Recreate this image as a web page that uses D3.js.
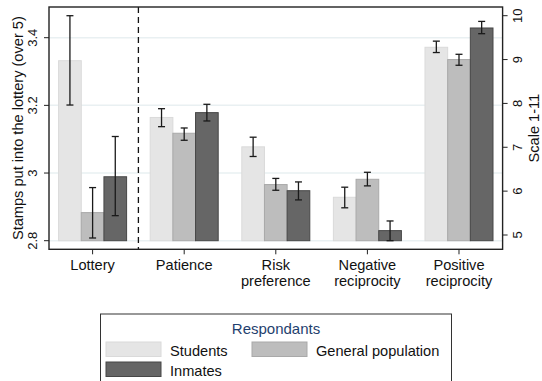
<!DOCTYPE html>
<html>
<head>
<meta charset="utf-8">
<script src="https://cdn.jsdelivr.net/npm/d3@7"></script>
<style>
  body { margin: 0; background: #fff; }
  text { font-family: "Liberation Sans", Arial, sans-serif; fill: #111; }
</style>
</head>
<body>
<svg id="chart" width="542" height="381"></svg>
<script>
// categories and groups
var categories = ["Lottery", "Patience", "Risk preference", "Negative reciprocity", "Positive reciprocity"];
var catLines = [["Lottery"], ["Patience"], ["Risk", "preference"], ["Negative", "reciprocity"], ["Positive", "reciprocity"]];
var groups = ["Students", "General population", "Inmates"];

// means (Lottery on left axis, the rest on the right 1-11 scale)
var students = [3.332, 7.68, 7.01, 5.86, 9.28];
var studentsLo = [3.201, 7.47, 6.79, 5.62, 9.16];
var studentsHi = [3.465, 7.88, 7.23, 6.09, 9.42];

var general = [2.883, 7.32, 6.15, 6.27, 9.00];
var generalLo = [2.808, 7.16, 6.02, 6.12, 8.87];
var generalHi = [2.957, 7.44, 6.29, 6.43, 9.12];

var inmates = [2.989, 7.79, 6.01, 5.10, 9.72];
var inmatesLo = [2.874, 7.60, 5.80, 4.87, 9.59];
var inmatesHi = [3.108, 7.98, 6.21, 5.32, 9.87];

var leftTicks = [2.8, 3.0, 3.2, 3.4];
var leftTickLabels = ["2.8", "3", "3.2", "3.4"];
var rightTicks = [5, 6, 7, 8, 9, 10];

var colors = ["#e5e5e5", "#bdbdbd", "#666666"];
var strokes = ["#dadada", "#a9a9a9", "#474747"];

// plot box
var box = {left: 49, right: 502.6, top: 7, bottom: 249.3};

var svg = d3.select("#chart");

var yL = d3.scaleLinear().domain([2.8, 3.4]).range([240.7, 37.7]);
var yR = d3.scaleLinear().domain([5, 10]).range([235, 15.7]);
var x = d3.scalePoint().domain(categories).range([box.left, box.right]).padding(0.476);
var groupW = 68;
var xg = d3.scaleBand().domain(groups).range([0, groupW]);

// gridlines
svg.selectAll("line.grid").data(leftTicks).enter().append("line")
  .attr("class", "grid")
  .attr("x1", box.left).attr("x2", box.right)
  .attr("y1", d => yL(d)).attr("y2", d => yL(d))
  .attr("stroke", "#e9f0f2").attr("stroke-width", 1.5);

// build rows
var series = [
  {name: groups[0], v: students, lo: studentsLo, hi: studentsHi},
  {name: groups[1], v: general, lo: generalLo, hi: generalHi},
  {name: groups[2], v: inmates, lo: inmatesLo, hi: inmatesHi}
];
var rows = [];
series.forEach(function(s, gi) {
  categories.forEach(function(c, ci) {
    rows.push({cat: c, ci: ci, gi: gi, g: s.name, v: s.v[ci], lo: s.lo[ci], hi: s.hi[ci]});
  });
});
function yy(d, v) { return d.ci === 0 ? yL(v) : yR(v); }
var base = yL(2.8);

svg.selectAll("rect.bar").data(rows).enter().append("rect")
  .attr("class", "bar")
  .attr("x", d => x(d.cat) - groupW / 2 + xg(d.g))
  .attr("width", xg.bandwidth())
  .attr("y", d => yy(d, d.v))
  .attr("height", d => base - yy(d, d.v))
  .attr("fill", d => colors[d.gi])
  .attr("stroke", d => strokes[d.gi])
  .attr("stroke-width", 1);

// error bars
var eb = svg.selectAll("g.err").data(rows).enter().append("g").attr("class", "err")
  .attr("transform", d => "translate(" + (x(d.cat) - groupW / 2 + xg(d.g) + xg.bandwidth() / 2) + ",0)");
eb.append("line").attr("x1", 0).attr("x2", 0)
  .attr("y1", d => Math.min(yy(d, d.lo), base)).attr("y2", d => yy(d, d.hi))
  .attr("stroke", "#1a1a1a").attr("stroke-width", 1.3);
eb.append("line").attr("x1", -3.5).attr("x2", 3.5)
  .attr("y1", d => yy(d, d.hi)).attr("y2", d => yy(d, d.hi))
  .attr("stroke", "#1a1a1a").attr("stroke-width", 1.3);
eb.append("line").attr("x1", -3.5).attr("x2", 3.5)
  .attr("y1", d => Math.min(yy(d, d.lo), base)).attr("y2", d => Math.min(yy(d, d.lo), base))
  .attr("stroke", "#1a1a1a").attr("stroke-width", 1.3);

// dashed separator
var sepX = (x(categories[0]) + x(categories[1])) / 2;
svg.append("line").attr("x1", sepX).attr("x2", sepX)
  .attr("y1", box.top).attr("y2", box.bottom)
  .attr("stroke", "#111").attr("stroke-width", 1.3).attr("stroke-dasharray", "6,4");

// frame
svg.append("rect").attr("x", box.left).attr("y", box.top)
  .attr("width", box.right - box.left).attr("height", box.bottom - box.top)
  .attr("fill", "none").attr("stroke", "#222").attr("stroke-width", 1.4);

// left axis
leftTicks.forEach(function(t, i) {
  svg.append("line").attr("x1", box.left - 5).attr("x2", box.left)
    .attr("y1", yL(t)).attr("y2", yL(t)).attr("stroke", "#222").attr("stroke-width", 1);
  svg.append("text").attr("transform", "translate(37," + yL(t) + ") rotate(-90)")
    .attr("text-anchor", "middle").attr("font-size", 13).text(leftTickLabels[i]);
});
svg.append("text").attr("transform", "translate(23," + (box.top + box.bottom) / 2 + ") rotate(-90)")
  .attr("text-anchor", "middle").attr("font-size", 14.6).text("Stamps put into the lottery (over 5)");

// right axis
rightTicks.forEach(function(t) {
  svg.append("line").attr("x1", box.right).attr("x2", box.right + 5)
    .attr("y1", yR(t)).attr("y2", yR(t)).attr("stroke", "#222").attr("stroke-width", 1);
  svg.append("text").attr("transform", "translate(522," + yR(t) + ") rotate(-90)")
    .attr("text-anchor", "middle").attr("font-size", 13).text(t);
});
svg.append("text").attr("transform", "translate(539," + (box.top + box.bottom) / 2 + ") rotate(-90)")
  .attr("text-anchor", "middle").attr("font-size", 14.6).text("Scale 1-11");

// bottom axis
categories.forEach(function(c, i) {
  svg.append("line").attr("x1", x(c)).attr("x2", x(c))
    .attr("y1", box.bottom).attr("y2", box.bottom + 5).attr("stroke", "#222").attr("stroke-width", 1);
  catLines[i].forEach(function(s, j) {
    svg.append("text").attr("x", x(c)).attr("y", 270 + j * 15.5)
      .attr("text-anchor", "middle").attr("font-size", 14.6).text(s);
  });
});

// legend
var lg = svg.append("g");
lg.append("rect").attr("x", 100.5).attr("y", 314).attr("width", 351).attr("height", 80)
  .attr("fill", "#fff").attr("stroke", "#333").attr("stroke-width", 1);
lg.append("text").attr("x", 276).attr("y", 333.5).attr("text-anchor", "middle")
  .attr("font-size", 15).style("fill", "#1f3f6e").text("Respondants");
var legPos = [{x: 106, y: 342}, {x: 252, y: 342}, {x: 106, y: 362}];
groups.forEach(function(g, i) {
  lg.append("rect").attr("x", legPos[i].x).attr("y", legPos[i].y).attr("width", 55).attr("height", 14.5)
    .attr("fill", colors[i]).attr("stroke", strokes[i]).attr("stroke-width", 1);
  lg.append("text").attr("x", legPos[i].x + 64).attr("y", legPos[i].y + 13.5)
    .attr("font-size", 14.6).text(g);
});
</script>
</body>
</html>
